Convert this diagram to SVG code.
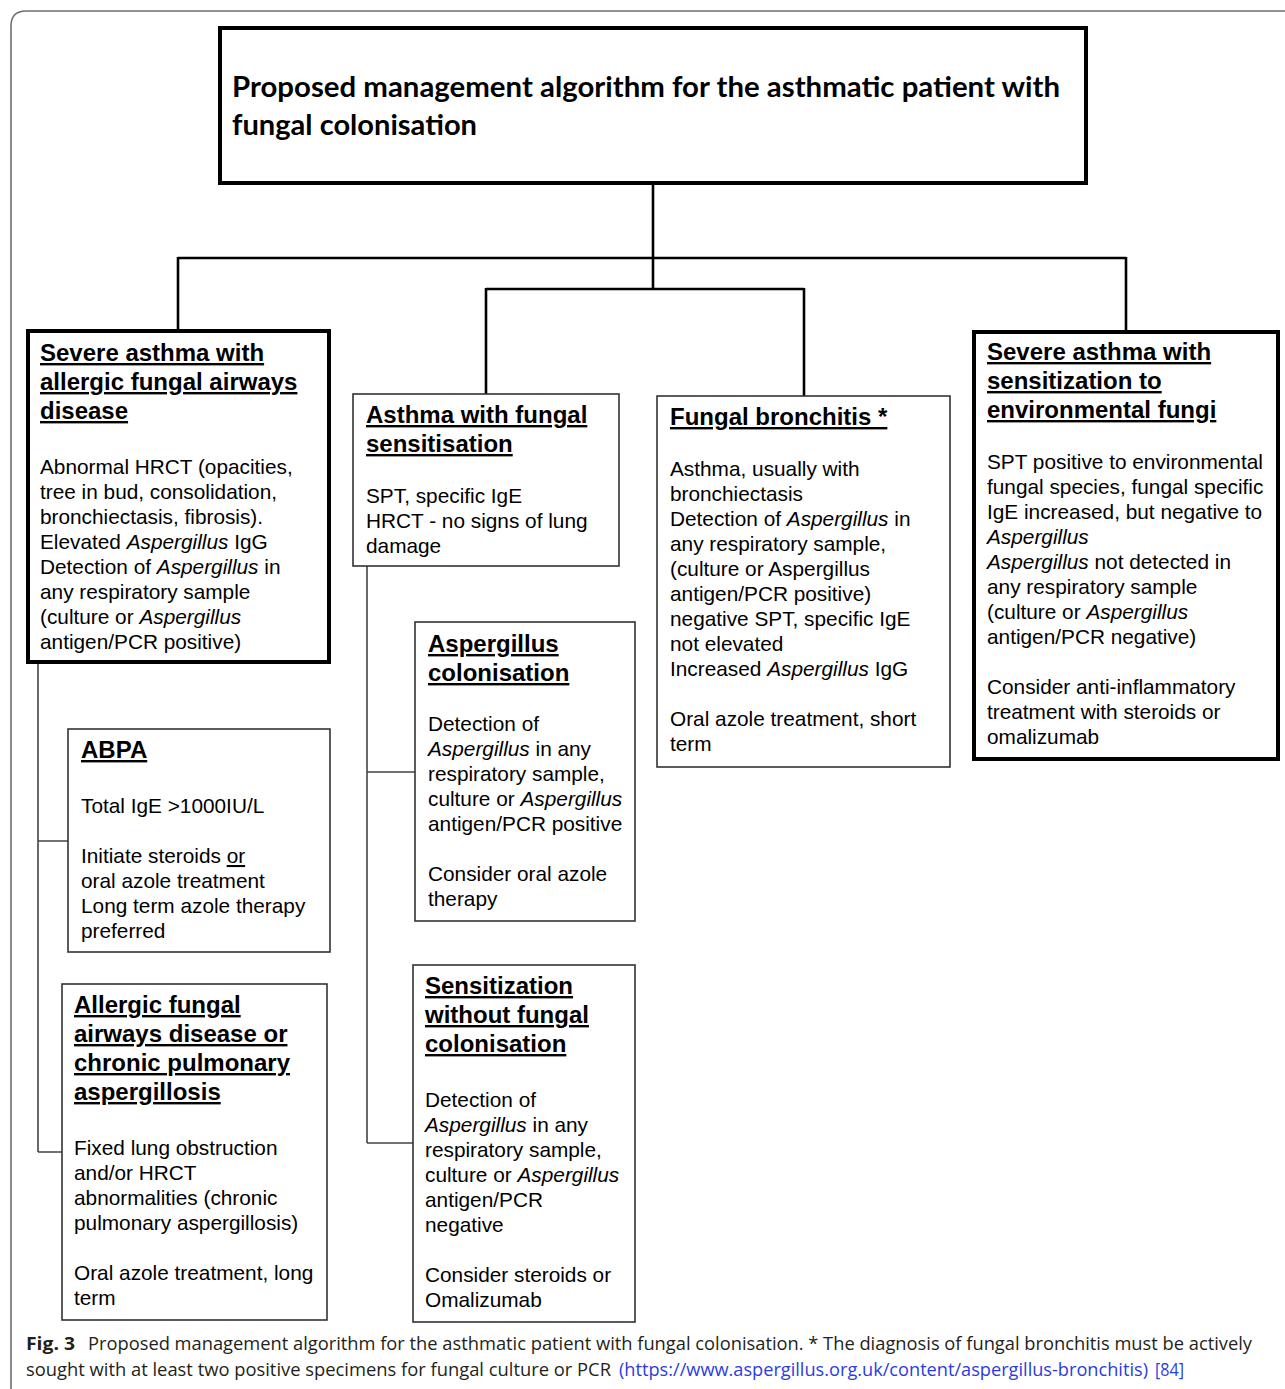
<svg xmlns="http://www.w3.org/2000/svg" width="1285" height="1389" viewBox="0 0 1285 1389">
<style>
.frame{fill:none;stroke:#6e6e6e;stroke-width:1.6}
.thick{fill:#fff;stroke:#000;stroke-width:4}
.thin{fill:#fff;stroke:#333;stroke-width:1.6}
.conn{fill:none;stroke:#000;stroke-width:2.6}
.side{fill:none;stroke:#444;stroke-width:1.6}
.title{font-family:Lato,"Open Sans","Noto Sans",sans-serif;font-weight:700;font-size:29px;fill:#000}
.h{font-family:"Liberation Sans",Arial,sans-serif;font-weight:700;font-size:24px;fill:#000;text-decoration:underline}
.b{font-family:"Liberation Sans",Arial,sans-serif;font-size:20.8px;fill:#000}
.i{font-style:italic}
.u{text-decoration:underline}
.cap{font-family:"Open Sans","Noto Sans",sans-serif;font-size:18px;fill:#231f20}
.link{fill:#2b3ce0}
</style>
<rect width="1285" height="1389" fill="#fff"/>
<path class="frame" d="M11,1389 V26 Q11,11 26,11 H1285"/>

<g id="connectors">
<path class="conn" d="M653,184 V289 M178,258 H1126 M178,257 V331 M1126,257 V331 M486,289 H804 M486,288 V394 M804,288 V396"/>
<path class="side" d="M38,663 V1152 M38,841 H68 M38,1152 H62 M367,566 V1143 M367,772 H415 M367,1143 H413"/>
</g>

<g id="title">
<rect class="thick" x="220" y="28" width="866" height="155"/>
<text class="title" x="232" y="97" textLength="828" lengthAdjust="spacingAndGlyphs">Proposed management algorithm for the asthmatic patient with</text>
<text class="title" x="232" y="135" textLength="245" lengthAdjust="spacingAndGlyphs">fungal colonisation</text>
</g>

<g id="severe-afad">
<rect class="thick" x="28" y="331" width="301" height="331"/>
<text class="h" x="40" y="361">Severe asthma with</text>
<text class="h" x="40" y="390">allergic fungal airways</text>
<text class="h" x="40" y="419">disease</text>
<text class="b" x="40" y="474">Abnormal HRCT (opacities,</text>
<text class="b" x="40" y="499">tree in bud, consolidation,</text>
<text class="b" x="40" y="524">bronchiectasis, fibrosis).</text>
<text class="b" x="40" y="549">Elevated <tspan class="i">Aspergillus</tspan> IgG</text>
<text class="b" x="40" y="574">Detection of <tspan class="i">Aspergillus</tspan> in</text>
<text class="b" x="40" y="599">any respiratory sample</text>
<text class="b" x="40" y="624">(culture or <tspan class="i">Aspergillus</tspan></text>
<text class="b" x="40" y="649">antigen/PCR positive)</text>
</g>

<g id="fungal-sensitisation">
<rect class="thin" x="353" y="394" width="266" height="172"/>
<text class="h" x="366" y="423">Asthma with fungal</text>
<text class="h" x="366" y="452">sensitisation</text>
<text class="b" x="366" y="503">SPT, specific IgE</text>
<text class="b" x="366" y="528">HRCT - no signs of lung</text>
<text class="b" x="366" y="553">damage</text>
</g>

<g id="fungal-bronchitis">
<rect class="thin" x="657" y="396" width="293" height="371"/>
<text class="h" x="670" y="425">Fungal bronchitis *</text>
<text class="b" x="670" y="476">Asthma, usually with</text>
<text class="b" x="670" y="501">bronchiectasis</text>
<text class="b" x="670" y="526">Detection of <tspan class="i">Aspergillus</tspan> in</text>
<text class="b" x="670" y="551">any respiratory sample,</text>
<text class="b" x="670" y="576">(culture or Aspergillus</text>
<text class="b" x="670" y="601">antigen/PCR positive)</text>
<text class="b" x="670" y="626">negative SPT, specific IgE</text>
<text class="b" x="670" y="651">not elevated</text>
<text class="b" x="670" y="676">Increased <tspan class="i">Aspergillus</tspan> IgG</text>
<text class="b" x="670" y="726">Oral azole treatment, short</text>
<text class="b" x="670" y="751">term</text>
</g>

<g id="severe-environmental">
<rect class="thick" x="974" y="332" width="304" height="427"/>
<text class="h" x="987" y="360">Severe asthma with</text>
<text class="h" x="987" y="389">sensitization to</text>
<text class="h" x="987" y="418">environmental fungi</text>
<text class="b" x="987" y="469">SPT positive to environmental</text>
<text class="b" x="987" y="494">fungal species, fungal specific</text>
<text class="b" x="987" y="519">IgE increased, but negative to</text>
<text class="b i" x="987" y="544">Aspergillus</text>
<text class="b" x="987" y="569"><tspan class="i">Aspergillus</tspan> not detected in</text>
<text class="b" x="987" y="594">any respiratory sample</text>
<text class="b" x="987" y="619">(culture or <tspan class="i">Aspergillus</tspan></text>
<text class="b" x="987" y="644">antigen/PCR negative)</text>
<text class="b" x="987" y="694">Consider anti-inflammatory</text>
<text class="b" x="987" y="719">treatment with steroids or</text>
<text class="b" x="987" y="744">omalizumab</text>
</g>

<g id="abpa">
<rect class="thin" x="68" y="729" width="262" height="223"/>
<text class="h" x="81" y="758">ABPA</text>
<text class="b" x="81" y="813">Total IgE &gt;1000IU/L</text>
<text class="b" x="81" y="863">Initiate steroids <tspan class="u">or</tspan></text>
<text class="b" x="81" y="888">oral azole treatment</text>
<text class="b" x="81" y="913">Long term azole therapy</text>
<text class="b" x="81" y="938">preferred</text>
</g>

<g id="afad-cpa">
<rect class="thin" x="62" y="984" width="265" height="336"/>
<text class="h" x="74" y="1013">Allergic fungal</text>
<text class="h" x="74" y="1042">airways disease or</text>
<text class="h" x="74" y="1071">chronic pulmonary</text>
<text class="h" x="74" y="1100">aspergillosis</text>
<text class="b" x="74" y="1155">Fixed lung obstruction</text>
<text class="b" x="74" y="1180">and/or HRCT</text>
<text class="b" x="74" y="1205">abnormalities (chronic</text>
<text class="b" x="74" y="1230">pulmonary aspergillosis)</text>
<text class="b" x="74" y="1280">Oral azole treatment, long</text>
<text class="b" x="74" y="1305">term</text>
</g>

<g id="aspergillus-colonisation">
<rect class="thin" x="415" y="622" width="220" height="299"/>
<text class="h" x="428" y="652">Aspergillus</text>
<text class="h" x="428" y="681">colonisation</text>
<text class="b" x="428" y="731">Detection of</text>
<text class="b" x="428" y="756"><tspan class="i">Aspergillus</tspan> in any</text>
<text class="b" x="428" y="781">respiratory sample,</text>
<text class="b" x="428" y="806">culture or <tspan class="i">Aspergillus</tspan></text>
<text class="b" x="428" y="831">antigen/PCR positive</text>
<text class="b" x="428" y="881">Consider oral azole</text>
<text class="b" x="428" y="906">therapy</text>
</g>

<g id="sensitization-without-colonisation">
<rect class="thin" x="413" y="965" width="222" height="357"/>
<text class="h" x="425" y="994">Sensitization</text>
<text class="h" x="425" y="1023">without fungal</text>
<text class="h" x="425" y="1052">colonisation</text>
<text class="b" x="425" y="1107">Detection of</text>
<text class="b" x="425" y="1132"><tspan class="i">Aspergillus</tspan> in any</text>
<text class="b" x="425" y="1157">respiratory sample,</text>
<text class="b" x="425" y="1182">culture or <tspan class="i">Aspergillus</tspan></text>
<text class="b" x="425" y="1207">antigen/PCR</text>
<text class="b" x="425" y="1232">negative</text>
<text class="b" x="425" y="1282">Consider steroids or</text>
<text class="b" x="425" y="1307">Omalizumab</text>
</g>

<g id="caption">
<text class="cap" x="26" y="1350" font-weight="700" font-size="19" textLength="49" lengthAdjust="spacingAndGlyphs">Fig. 3</text>
<text class="cap" x="88" y="1350" textLength="1164" lengthAdjust="spacingAndGlyphs">Proposed management algorithm for the asthmatic patient with fungal colonisation. * The diagnosis of fungal bronchitis must be actively</text>
<text class="cap" x="26" y="1376" textLength="585" lengthAdjust="spacingAndGlyphs">sought with at least two positive specimens for fungal culture or PCR</text>
<text class="cap link" x="619" y="1376" textLength="529" lengthAdjust="spacingAndGlyphs">(https://www.aspergillus.org.uk/content/aspergillus-bronchitis)</text>
<text class="cap link" x="1155" y="1376" textLength="29" lengthAdjust="spacingAndGlyphs">[84]</text>
</g>
</svg>
